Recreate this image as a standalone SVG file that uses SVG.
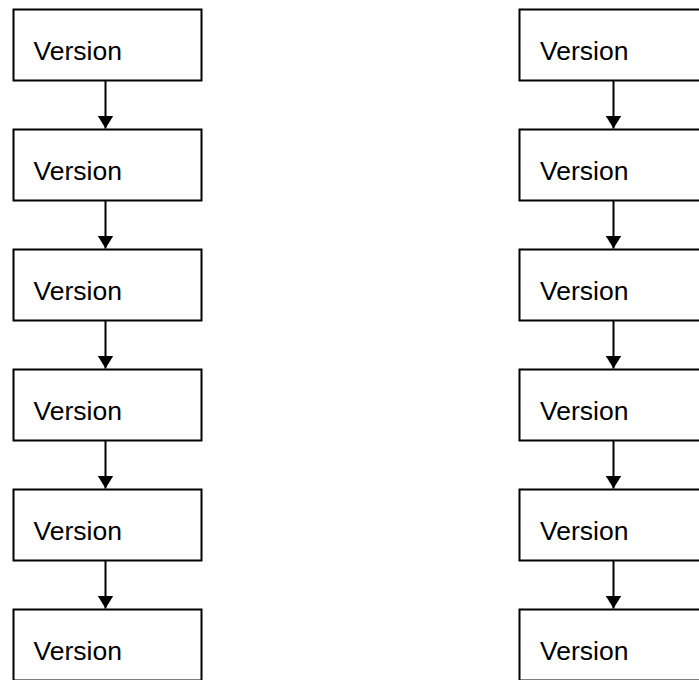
<svg xmlns="http://www.w3.org/2000/svg" width="699" height="680" viewBox="0 0 699 680">
<style>
.box{fill:#fff;stroke:#000;stroke-width:2}
.lbl{font-family:"Liberation Sans",Arial,sans-serif;font-size:26.5px;fill:#000}
.con{stroke:#000;stroke-width:2;fill:none}
</style>
<defs>
<marker id="ah" markerUnits="userSpaceOnUse" markerWidth="13" markerHeight="16" refX="13" refY="8" orient="auto" viewBox="0 0 13 16">
<path d="M0,0 L13,8 L0,16 Z" fill="#000"/>
</marker>
</defs>
<rect width="699" height="680" fill="#fff"/>
<g id="L1"><rect class="box" x="13.5" y="9.5" width="188" height="71"/><text class="lbl" x="33.5" y="59.5">Version</text></g>
<g id="L2"><rect class="box" x="13.5" y="129.5" width="188" height="71"/><text class="lbl" x="33.5" y="179.5">Version</text></g>
<g id="L3"><rect class="box" x="13.5" y="249.5" width="188" height="71"/><text class="lbl" x="33.5" y="299.5">Version</text></g>
<g id="L4"><rect class="box" x="13.5" y="369.5" width="188" height="71"/><text class="lbl" x="33.5" y="419.5">Version</text></g>
<g id="L5"><rect class="box" x="13.5" y="489.5" width="188" height="71"/><text class="lbl" x="33.5" y="539.5">Version</text></g>
<g id="L6"><rect class="box" x="13.5" y="609.5" width="188" height="71"/><text class="lbl" x="33.5" y="659.5">Version</text></g>
<g id="R1"><rect class="box" x="519.5" y="9.5" width="188" height="71"/><text class="lbl" x="540" y="59.5">Version</text></g>
<g id="R2"><rect class="box" x="519.5" y="129.5" width="188" height="71"/><text class="lbl" x="540" y="179.5">Version</text></g>
<g id="R3"><rect class="box" x="519.5" y="249.5" width="188" height="71"/><text class="lbl" x="540" y="299.5">Version</text></g>
<g id="R4"><rect class="box" x="519.5" y="369.5" width="188" height="71"/><text class="lbl" x="540" y="419.5">Version</text></g>
<g id="R5"><rect class="box" x="519.5" y="489.5" width="188" height="71"/><text class="lbl" x="540" y="539.5">Version</text></g>
<g id="R6"><rect class="box" x="519.5" y="609.5" width="188" height="71"/><text class="lbl" x="540" y="659.5">Version</text></g>
<g id="connectors">
<path class="con" marker-end="url(#ah)" d="M105.5,81 V128.5"/>
<path class="con" marker-end="url(#ah)" d="M105.5,201 V248.5"/>
<path class="con" marker-end="url(#ah)" d="M105.5,321 V368.5"/>
<path class="con" marker-end="url(#ah)" d="M105.5,441 V488.5"/>
<path class="con" marker-end="url(#ah)" d="M105.5,561 V608.5"/>
<path class="con" marker-end="url(#ah)" d="M613.5,81 V128.5"/>
<path class="con" marker-end="url(#ah)" d="M613.5,201 V248.5"/>
<path class="con" marker-end="url(#ah)" d="M613.5,321 V368.5"/>
<path class="con" marker-end="url(#ah)" d="M613.5,441 V488.5"/>
<path class="con" marker-end="url(#ah)" d="M613.5,561 V608.5"/>
</g>
</svg>
